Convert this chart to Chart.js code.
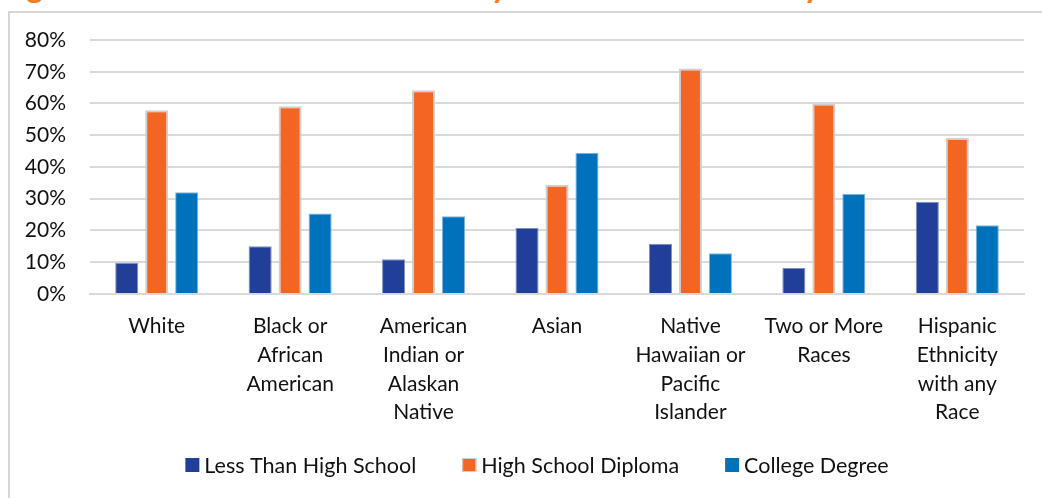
<!DOCTYPE html>
<html>
<head>
<meta charset="utf-8">
<script src="https://cdn.jsdelivr.net/npm/chart.js@4.4.1/dist/chart.umd.min.js"></script>
<style>
  html, body { margin: 0; padding: 0; background: #fff; overflow: hidden; }
  #wrap { position: relative; width: 1042px; height: 498px; overflow: hidden; }
  #title {
    position: absolute; left: 0; top: -34px; white-space: nowrap; line-height: 1;
    font: bold 32px Lato, sans-serif; color: #f47c20;
  }
  #title span { word-spacing: 14px; }
  #frame {
    position: absolute; left: 8px; top: 11px; width: 1200px; height: 700px;
    border-left: 2px solid #d6d6d6; border-top: 2px solid #d6d6d6;
  }
  canvas { position: absolute; left: 0; top: 0; }
</style>
</head>
<body>
<div id="wrap">
  <div id="title">Figure 5: Educational Attainment by<span> Race and Ethnicity</span></div>
  <div id="frame"></div>
  <canvas id="chart" width="1042" height="498"></canvas>
</div>
<script>
const categories = [
  ['White'],
  ['Black or', 'African', 'American'],
  ['American', 'Indian or', 'Alaskan', 'Native'],
  ['Asian'],
  ['Native', 'Hawaiian or', 'Pacific', 'Islander'],
  ['Two or More', 'Races'],
  ['Hispanic', 'Ethnicity', 'with any', 'Race'],
];

const lessThanHighSchool = [9.8, 15.0, 10.9, 20.8, 15.8, 8.2, 29.0];
const highSchoolDiploma = [57.9, 59.1, 64.2, 34.4, 71.0, 60.0, 49.1];
const collegeDegree = [32.0, 25.3, 24.5, 44.4, 12.8, 31.5, 21.6];

const yTicks = [0, 10, 20, 30, 40, 50, 60, 70, 80];

const FONT = 'Lato, "Open Sans", sans-serif';

// legend drawn by hand so the row can sit closer to the axis labels
const bottomLegend = {
  id: 'bottomLegend',
  afterDraw(chart) {
    const { ctx } = chart;
    const items = chart.data.datasets;
    const box = 14, textGap = 5, itemGap = 46, centerX = 537, y = 465;
    ctx.save();
    ctx.font = `21.5px ${FONT}`;
    ctx.textBaseline = 'middle';
    const widths = items.map((ds) => box + textGap + ctx.measureText(ds.label).width);
    const total = widths.reduce((a, b) => a + b, 0) + itemGap * (items.length - 1);
    let x = centerX - total / 2;
    items.forEach((ds, i) => {
      ctx.fillStyle = ds.backgroundColor;
      ctx.fillRect(x, y - box / 2, box, box);
      if (ds.borderWidth > 1) {
        ctx.strokeStyle = ds.borderColor;
        ctx.lineWidth = 1;
        ctx.strokeRect(x + 0.5, y - box / 2 + 0.5, box - 1, box - 1);
      }
      ctx.fillStyle = '#111';
      ctx.fillText(ds.label, x + box + textGap, y + 1);
      x += widths[i] + itemGap;
    });
    ctx.restore();
  },
};

new Chart(document.getElementById('chart'), {
  type: 'bar',
  data: {
    labels: categories,
    datasets: [
      {
        label: 'Less Than High School',
        data: lessThanHighSchool,
        backgroundColor: '#213f99',
        borderColor: '#7f8fc6',
        borderWidth: 1,
      },
      {
        label: 'High School Diploma',
        data: highSchoolDiploma,
        backgroundColor: '#f26522',
        borderColor: '#cfcfcf',
        borderWidth: 2,
      },
      {
        label: 'College Degree',
        data: collegeDegree,
        backgroundColor: '#0072bc',
        borderColor: '#7fb3dc',
        borderWidth: 1,
      },
    ],
  },
  plugins: [bottomLegend],
  options: {
    responsive: false,
    animation: false,
    categoryPercentage: 0.674,
    barPercentage: 0.77,
    layout: { padding: { left: 0, right: 18, top: 40, bottom: 53 } },
    plugins: {
      tooltip: { enabled: false },
      legend: { display: false },
    },
    scales: {
      x: {
        grid: { display: false, drawTicks: false },
        border: { color: '#d9d9d9', width: 2 },
        ticks: {
          color: '#111',
          font: { family: FONT, size: 21, lineHeight: 1.37 },
          padding: 18,
          maxRotation: 0,
          autoSkip: false,
        },
      },
      y: {
        min: 0,
        max: 80,
        afterFit: (scale) => { scale.width = 90; },
        afterBuildTicks: (scale) => { scale.ticks = yTicks.map((v) => ({ value: v })); },
        grid: { color: '#d9d9d9', lineWidth: 2, drawTicks: false },
        border: { display: false },
        ticks: {
          color: '#111',
          font: { family: FONT, size: 21 },
          padding: 24,
          callback: (value) => `${value}%`,
        },
      },
    },
  },
});
</script>
</body>
</html>
